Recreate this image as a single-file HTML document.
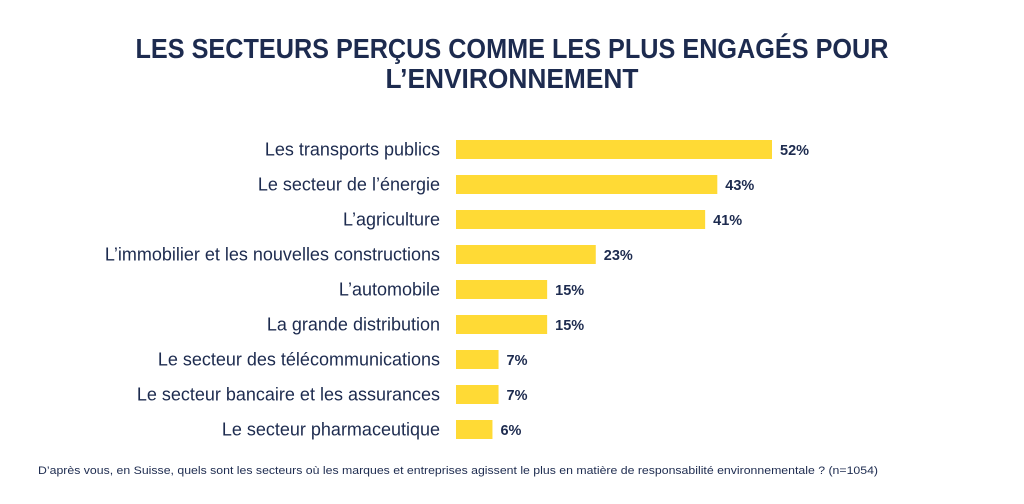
<!DOCTYPE html>
<html><head><meta charset="utf-8">
<style>
html,body{margin:0;padding:0;background:#fff;}
svg{display:block;font-family:"Liberation Sans",sans-serif;}
</style></head>
<body>
<svg width="1024" height="504" viewBox="0 0 1024 504">
  <g fill="#1d2b4f" font-weight="bold" font-size="28" text-anchor="middle">
    <text x="512" y="58" textLength="753" lengthAdjust="spacingAndGlyphs">LES SECTEURS PERÇUS COMME LES PLUS ENGAGÉS POUR</text>
    <text x="512" y="88" textLength="253" lengthAdjust="spacingAndGlyphs">L’ENVIRONNEMENT</text>
  </g>
  <g id="bars"></g>
  <text x="38" y="474" font-size="11" fill="#1d2b4f" textLength="840" lengthAdjust="spacingAndGlyphs">D’après vous, en Suisse, quels sont les secteurs où les marques et entreprises agissent le plus en matière de responsabilité environnementale ? (n=1054)</text>
</svg>
<script>
const categories = ["Les transports publics","Le secteur de l’énergie","L’agriculture","L’immobilier et les nouvelles constructions","L’automobile","La grande distribution","Le secteur des télécommunications","Le secteur bancaire et les assurances","Le secteur pharmaceutique"];
const values = [52,43,41,23,15,15,7,7,6];
const valueLabels = ["52%","43%","41%","23%","15%","15%","7%","7%","6%"];

const NS = "http://www.w3.org/2000/svg";
const x0 = 456, pxPer = 316/52;
const xScale = v => v * pxPer;
const yTop = i => 140 + i * 35;
const barH = 19;
const g = document.getElementById("bars");
categories.forEach((c, i) => {
  const y = yTop(i);
  const lab = document.createElementNS(NS, "text");
  lab.setAttribute("x", 440); lab.setAttribute("y", y + 15.5);
  lab.setAttribute("text-anchor", "end"); lab.setAttribute("font-size", "18");
  lab.setAttribute("fill", "#1d2b4f");
  
  
  lab.textContent = c;
  g.appendChild(lab);
  const r = document.createElementNS(NS, "rect");
  r.setAttribute("x", x0); r.setAttribute("y", y);
  r.setAttribute("width", xScale(values[i])); r.setAttribute("height", barH);
  r.setAttribute("fill", "#ffda35");
  
  
  g.appendChild(r);
  const v = document.createElementNS(NS, "text");
  v.setAttribute("x", x0 + xScale(values[i]) + 8); v.setAttribute("y", y + 15);
  v.setAttribute("font-size", "14.5"); v.setAttribute("font-weight", "bold");
  v.setAttribute("fill", "#1d2b4f");
  
  
  v.textContent = valueLabels[i];
  g.appendChild(v);
});
</script>
</body></html>
